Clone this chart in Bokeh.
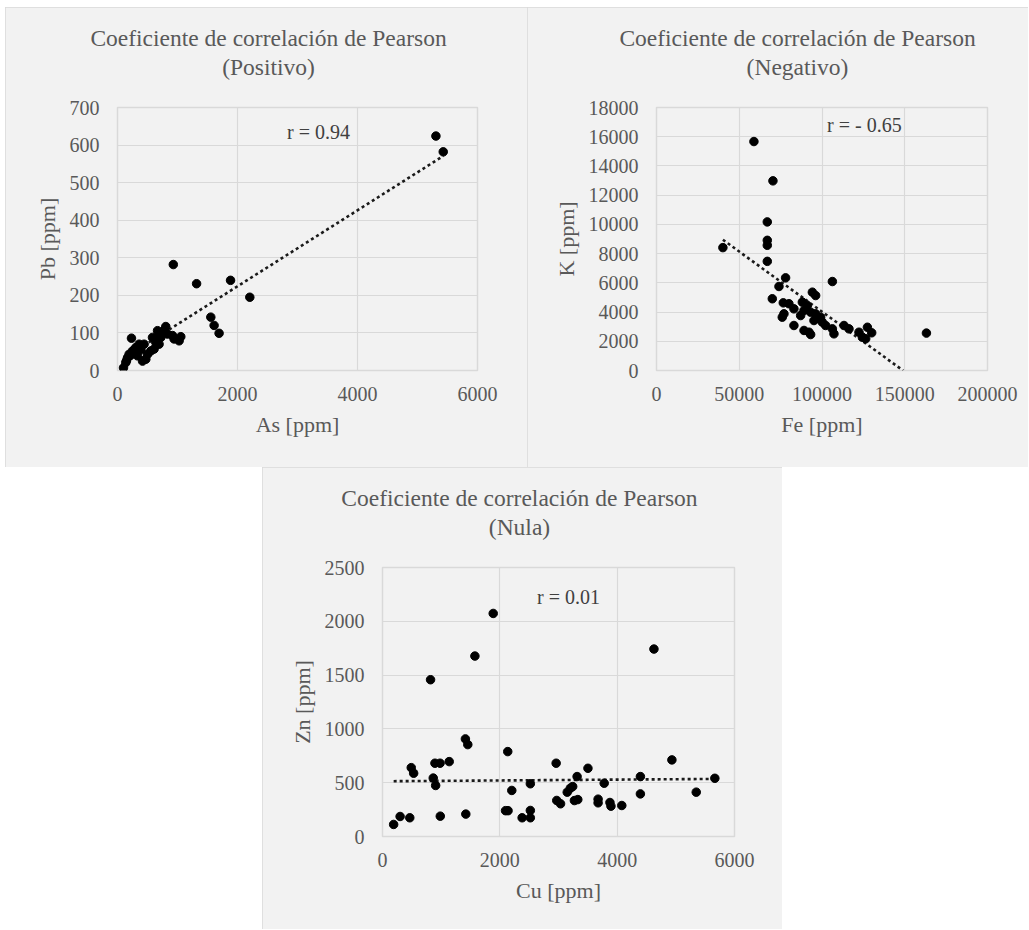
from bokeh.plotting import figure
from bokeh.models import (Range1d, FixedTicker, BasicTickFormatter, Label, Spacer,
                          LinearAxis)
from bokeh.layouts import row, column
from bokeh.embed import file_html
from bokeh.resources import INLINE

# ---------------- data ----------------
# Panel 1: As vs Pb (positive)
as_ppm = [5307, 5429, 930, 1318, 1884, 2205, 1555, 1610, 1693,
          100, 138, 150, 167, 193, 215, 233, 250, 280, 305,
          333, 360, 390, 417, 443, 472, 500, 555, 583, 610,
          638, 650, 667, 693, 722, 750, 780, 805, 833, 917,
          943, 1027, 1055]
pb_ppm = [624, 582, 282, 231, 240, 195, 142, 120, 99,
          7, 21, 26, 34, 43, 40, 86, 52, 55, 61,
          39, 70, 55, 25, 70, 30, 43, 52, 88, 57,
          75, 85, 106, 70, 88, 102, 108, 117, 97, 93,
          84, 79, 90]
trend1_x = [100, 5430]
trend1_y = [32, 571]
r1_text = "r = 0.94"

# Panel 2: Fe vs K (negative)
fe_ppm = [40120, 58870, 70360, 66940, 66940, 66940, 66940, 78000, 74000, 106260,
          69970, 94170, 96160, 76610, 80020, 83040, 77010, 76000, 88120, 91140,
          89130, 93140, 87090, 96160, 98170, 100190, 102200, 106260, 107230, 83040,
          89130, 92150, 93140, 113280, 116300, 122350, 124400, 127430, 130030, 126400,
          99180, 95140, 163100]
k_ppm = [8410, 15670, 12980, 10170, 8910, 8570, 7470, 6340, 5750, 6090,
         4910, 5360, 5130, 4630, 4570, 4220, 3880, 3650, 4680, 4450,
         4110, 3990, 3760, 3880, 3540, 3310, 3080, 2850, 2510, 3080,
         2740, 2620, 2460, 3080, 2850, 2620, 2280, 2960, 2580, 2170,
         3650, 3420, 2560]
trend2_x = [40120, 148960]
trend2_y = [8950, 0]
r2_text = "r = - 0.65"

# Panel 3: Cu vs Zn (null)
cu_ppm = [1887, 1575, 819, 4627, 1413, 1454, 2135, 894, 981, 1137,
          490, 531, 865, 906, 190, 300, 465, 985, 1420, 2097,
          2140, 2204, 2380, 2520, 2520, 2520, 2960, 2970, 3035, 3149,
          3202, 3242, 3271, 3329, 3317, 3502, 3675, 3675, 3779, 3877,
          3894, 4079, 4396, 4396, 4933, 5348, 5665]
zn_ppm = [2073, 1677, 1457, 1742, 907, 854, 789, 681, 681, 696,
          640, 588, 543, 474, 112, 186, 174, 189, 208, 240,
          240, 428, 174, 490, 242, 174, 681, 335, 304, 412,
          449, 464, 334, 343, 557, 634, 347, 313, 495, 316,
          282, 288, 557, 396, 712, 412, 541]
trend3_x = [190, 5665]
trend3_y = [514, 535]
r3_text = "r = 0.01"

title_line1 = "Coeficiente de correlación de Pearson"
subtitles = ["(Positivo)", "(Negativo)", "(Nula)"]

x_ticks1 = [0, 2000, 4000, 6000]
y_ticks1 = [0, 100, 200, 300, 400, 500, 600, 700]
x_ticks2 = [0, 50000, 100000, 150000, 200000]
y_ticks2 = list(range(0, 18001, 2000))
x_ticks3 = [0, 2000, 4000, 6000]
y_ticks3 = [0, 500, 1000, 1500, 2000, 2500]

# ---------------- style ----------------
FONT = "Liberation Serif"
TXT = "#595959"
BG = "#f2f2f2"
GRID = "#d9d9d9"


def title_axis(xc, text, standoff):
    ax = LinearAxis(ticker=FixedTicker(ticks=[xc]),
                    major_label_overrides={xc: text})
    ax.axis_line_color = None
    ax.major_tick_line_color = None
    ax.minor_tick_line_color = None
    ax.major_tick_out = 0
    ax.major_tick_in = 0
    ax.major_label_standoff = standoff
    ax.major_label_text_font = FONT
    ax.major_label_text_font_size = "23.5px"
    ax.major_label_text_color = TXT
    return ax


def make_panel(w, h, mb, xr, yr, xt, yt, xs, ys, tx, ty, xlabel, ylabel,
               rtext, rx, ry, sub, tc):
    p = figure(width=w, height=h, output_backend="svg", toolbar_location=None,
               x_range=Range1d(*xr), y_range=Range1d(*yr),
               min_border_left=mb[0], min_border_right=mb[1],
               min_border_top=mb[2], min_border_bottom=mb[3])
    p.background_fill_color = BG
    p.border_fill_color = BG
    p.outline_line_color = GRID
    p.outline_line_width = 1.5
    p.styles = {"outline": "1.5px solid #d9d9d9", "outline-offset": "-1.5px"}

    for ax, ticks in ((p.xaxis[0], xt), (p.yaxis[0], yt)):
        ax.ticker = FixedTicker(ticks=ticks)
        ax.formatter = BasicTickFormatter(use_scientific=False)
        ax.axis_line_color = None
        ax.major_tick_line_color = None
        ax.minor_tick_line_color = None
        ax.major_tick_out = 0
        ax.major_tick_in = 0
        ax.major_label_text_font = FONT
        ax.major_label_text_font_size = "20px"
        ax.major_label_text_color = TXT
        ax.axis_label_text_font = FONT
        ax.axis_label_text_font_size = "22px"
        ax.axis_label_text_font_style = "normal"
        ax.axis_label_text_color = TXT
    p.xaxis[0].axis_label = xlabel
    p.yaxis[0].axis_label = ylabel
    p.xaxis[0].major_label_standoff = 16
    p.yaxis[0].major_label_standoff = 18
    p.xaxis[0].axis_label_standoff = 8
    p.yaxis[0].axis_label_standoff = 7

    for g in (p.xgrid[0], p.ygrid[0]):
        g.grid_line_color = GRID
        g.grid_line_width = 1.2

    p.line(tx, ty, line_color="#1a1a1a", line_width=2.6, line_dash="3 3")
    p.scatter(xs, ys, size=8.5, fill_color="black", line_color="black")

    p.add_layout(Label(x=rx, y=ry, text=rtext, text_font=FONT,
                       text_font_size="20px", text_color="#404040",
                       text_align="center", text_baseline="middle"))
    # two-line chart title as text placed above the plot area
    p.add_layout(title_axis(tc, sub, 28), "above")
    p.add_layout(title_axis(tc, title_line1, 0), "above")
    return p


p1 = make_panel(522, 460, (112, 50, 100, 97), (0, 6000), (0, 700),
                x_ticks1, y_ticks1, as_ppm, pb_ppm, trend1_x, trend1_y,
                "As [ppm]", "Pb [ppm]", r1_text, 3350, 634, subtitles[0], 2517)
p2 = make_panel(501, 460, (129, 41, 100, 97), (0, 200000), (0, 18000),
                x_ticks2, y_ticks2, fe_ppm, k_ppm, trend2_x, trend2_y,
                "Fe [ppm]", "K [ppm]", r2_text, 125600, 16770, subtitles[1], 85200)
p3 = make_panel(520, 462, (120, 48, 100, 93), (0, 6000), (0, 2500),
                x_ticks3, y_ticks3, cu_ppm, zn_ppm, trend3_x, trend3_y,
                "Cu [ppm]", "Zn [ppm]", r3_text, 3170, 2230, subtitles[2], 2335)

layout = column(Spacer(height=7),
                row(Spacer(width=5), p1, p2),
                row(Spacer(width=262), p3))

open("out.html", "w").write(file_html(layout, INLINE))
